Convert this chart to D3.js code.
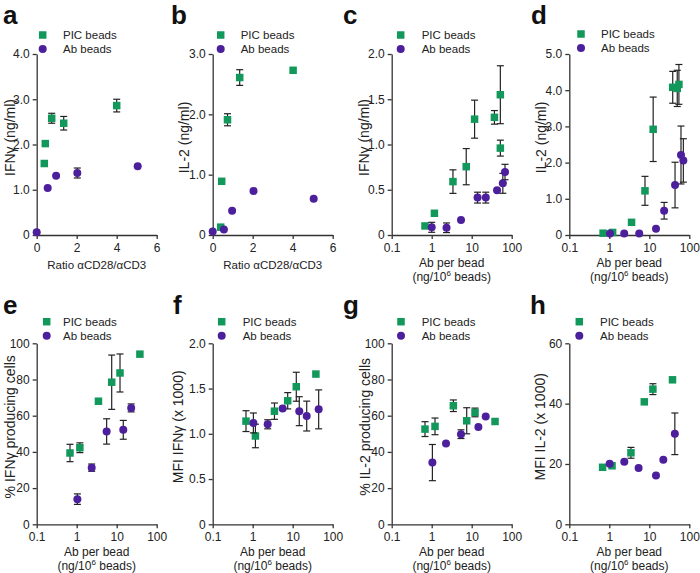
<!DOCTYPE html>
<html><head><meta charset="utf-8">
<script src="https://cdn.jsdelivr.net/npm/d3@7"></script>
<style>body{margin:0;background:#fff} svg text{font-family:"Liberation Sans",Arial,Helvetica,sans-serif}</style>
</head><body><svg id="chart" width="700" height="573"></svg>
<script>
// ---------- DATA ----------
const seriesNames = ["PIC beads", "Ab beads"];
// a: IFNγ vs ratio
const aPicX = [0.38, 0.43, 0.75, 1.35, 4.0];
const aPicY = [1.58, 2.02, 2.58, 2.47, 2.86];
const aPicErr = [0, 0, 0.11, 0.15, 0.14];
const aAbX = [0, 0.55, 0.97, 2.03, 5.05];
const aAbY = [0.06, 1.04, 1.31, 1.37, 1.52];
const aAbErr = [0, 0, 0, 0.11, 0];
// b: IL-2 vs ratio
const bPicX = [0.40, 0.45, 0.74, 1.35, 4.02];
const bPicY = [0.13, 0.89, 1.91, 2.61, 2.73];
const bPicErr = [0, 0, 0.10, 0.13, 0];
const bAbX = [0, 0.56, 0.97, 2.04, 5.05];
const bAbY = [0.06, 0.09, 0.40, 0.73, 0.60];
const bAbErr = [0, 0, 0, 0, 0];
// c: IFNγ vs Ab per bead
const cPicX = [0.68, 1.17, 3.4, 7.3, 11.8, 37, 52, 52];
const cPicY = [0.10, 0.24, 0.59, 0.755, 1.28, 1.30, 1.55, 0.96];
const cPicErr = [0, 0, 0.13, 0.20, 0.21, 0.075, 0.32, 0.088];
const cAbX = [1.0, 2.35, 5.4, 14, 22.5, 43, 60, 68];
const cAbY = [0.085, 0.08, 0.166, 0.413, 0.413, 0.494, 0.571, 0.696];
const cAbErr = [0.055, 0.053, 0, 0.06, 0.06, 0, 0.11, 0.085];
// d: IL-2 vs Ab per bead
const dPicX = [0.70, 1.21, 3.6, 7.8, 12.5, 38.5, 50, 55];
const dPicY = [0.05, 0.07, 0.35, 1.22, 2.92, 4.08, 4.05, 4.16];
const dPicErr = [0, 0, 0, 0.4, 0.89, 0.44, 0.5, 0.55];
const dAbX = [1.04, 2.36, 5.6, 14.7, 23.5, 44, 62, 71];
const dAbY = [0.04, 0.04, 0.04, 0.17, 0.67, 1.38, 2.21, 2.06];
const dAbErr = [0, 0, 0, 0, 0.23, 0.63, 0.8, 0.6];
// e: % IFNγ producing cells
const ePicX = [0.68, 1.2, 3.5, 7.5, 12.1, 38];
const ePicY = [39.4, 42.3, 68, 78.5, 83.6, 94];
const ePicErr = [4.8, 2.7, 0, 15, 10.5, 0];
const eAbX = [1.04, 2.37, 5.6, 14.6, 23];
const eAbY = [13.9, 31.3, 51.3, 52.2, 64.3];
const eAbErr = [2.9, 2, 7, 5.2, 2.2];
// f: MFI IFNγ
const fPicX = [0.68, 1.17, 3.5, 7.5, 12.3, 38];
const fPicY = [1.14, 0.976, 1.25, 1.365, 1.52, 1.66];
const fPicErr = [0.115, 0.13, 0.09, 0.09, 0.16, 0];
const fAbX = [1.04, 2.37, 5.6, 14.6, 22.4, 44.6];
const fAbY = [1.12, 1.105, 1.28, 1.25, 1.196, 1.27];
const fAbErr = [0.11, 0.05, 0, 0.16, 0.165, 0.215];
// g: % IL-2 producing cells
const gPicX = [0.68, 1.21, 3.48, 7.5, 12.1, 38.3];
const gPicY = [52.6, 54.1, 65.5, 57.2, 61.8, 56.8];
const gPicErr = [4.1, 4.6, 3.2, 7.2, 2.4, 0];
const gAbX = [1.04, 2.28, 5.4, 14.7, 22.4];
const gAbY = [34.1, 44.6, 49.8, 53.7, 59.6];
const gAbErr = [10, 0, 2.4, 0, 0];
// h: MFI IL-2
const hPicX = [0.68, 1.17, 3.48, 7.5, 12.3, 38];
const hPicY = [18.9, 19.4, 23.7, 40.6, 44.8, 47.9];
const hPicErr = [0, 0, 1.8, 0, 1.8, 0];
const hAbX = [1.02, 2.37, 5.4, 14.7, 22.4, 43.5];
const hAbY = [20.1, 20.7, 18.7, 16.2, 21.4, 30.0];
const hAbErr = [0, 0, 0, 0, 0, 6.9];

// tick values / labels
const ratioTicks = [0, 2, 4, 6];
const logTicks = [0.1, 1, 10, 100];
const aYTicks = [0, 1, 2, 3, 4];
const bYTicks = [0, 1, 2, 3];
const cYTicks = [0, 0.5, 1, 1.5, 2];
const dYTicks = [0, 1, 2, 3, 4, 5];
const pctTicks = [0, 20, 40, 60, 80, 100];
const fYTicks = [0, 0.5, 1, 1.5, 2];
const hYTicks = [0, 20, 40, 60];

const GREEN = "#13985c", PURPLE = "#4c1f9c", AXIS = "#333";

const dec1 = v => v === 0 ? "0" : v.toFixed(1);
const intf = v => String(v);
const logf = v => d3.format("~g")(v);
const abTitle = ["Ab per bead", "(ng/10", "6", " beads)"];

const panels = [
  {L:"a", ox:36.7, oy:235, log:false, xd:[0,6], xt:ratioTicks, yd:[0,4], yt:aYTicks, yf:dec1, yT:"IFNγ (ng/ml)", ytx:10, xT:"Ratio αCD28/αCD3", lx:[3,24], lg:[42.7,35,63], P:[aPicX,aPicY,aPicErr], A:[aAbX,aAbY,aAbErr]},
  {L:"b", ox:212.7, oy:235, log:false, xd:[0,6], xt:ratioTicks, yd:[0,3], yt:bYTicks, yf:dec1, yT:"IL-2 (ng/ml)", ytx:184, xT:"Ratio αCD28/αCD3", lx:[171,24], lg:[220.7,35,240.7], P:[bPicX,bPicY,bPicErr], A:[bAbX,bAbY,bAbErr]},
  {L:"c", ox:391.7, oy:235, log:true, xd:[0.1,100], xt:logTicks, yd:[0,2], yt:cYTicks, yf:dec1, yT:"IFNγ  (ng/ml)", ytx:364, xT:null, lx:[343,24], lg:[400.7,35,421.7], P:[cPicX,cPicY,cPicErr], A:[cAbX,cAbY,cAbErr]},
  {L:"d", ox:569.3, oy:235, log:true, xd:[0.1,100], xt:logTicks, yd:[0,5], yt:dYTicks, yf:dec1, yT:"IL-2 (ng/ml)", ytx:541, xT:null, lx:[531,24], lg:[581,34,601], P:[dPicX,dPicY,dPicErr], A:[dAbX,dAbY,dAbErr]},
  {L:"e", ox:36.7, oy:524.3, log:true, xd:[0.1,100], xt:logTicks, yd:[0,100], yt:pctTicks, yf:intf, yT:"% IFNγ producing cells", ytx:10, xT:null, lx:[3,314], lg:[46.7,321.7,63], P:[ePicX,ePicY,ePicErr], A:[eAbX,eAbY,eAbErr]},
  {L:"f", ox:212.7, oy:524.3, log:true, xd:[0.1,100], xt:logTicks, yd:[0,2], yt:fYTicks, yf:dec1, yT:"MFI IFNγ (x 1000)", ytx:178, xT:null, lx:[173,314], lg:[221.7,321.7,242.7], P:[fPicX,fPicY,fPicErr], A:[fAbX,fAbY,fAbErr]},
  {L:"g", ox:391.7, oy:524.3, log:true, xd:[0.1,100], xt:logTicks, yd:[0,100], yt:pctTicks, yf:intf, yT:"% IL-2 producing cells", ytx:365, xT:null, lx:[343,314], lg:[401,321.7,421.7], P:[gPicX,gPicY,gPicErr], A:[gAbX,gAbY,gAbErr]},
  {L:"h", ox:569.3, oy:524.3, log:true, xd:[0.1,100], xt:logTicks, yd:[0,60], yt:hYTicks, yf:intf, yT:"MFI IL-2 (x 1000)", ytx:540, xT:null, lx:[530,314], lg:[579.3,321.7,600], P:[hPicX,hPicY,hPicErr], A:[hAbX,hAbY,hAbErr]}
];

const W = 120, H = 181;
const svg = d3.select("#chart");

panels.forEach(p => {
  const g = svg.append("g");
  const x = (p.log ? d3.scaleLog() : d3.scaleLinear()).domain(p.xd).range([p.ox, p.ox + W]);
  const y = d3.scaleLinear().domain(p.yd).range([p.oy, p.oy - H]);

  const xa = g.append("g").attr("transform", `translate(0,${p.oy})`)
    .call(d3.axisBottom(x).tickValues(p.xt).tickFormat(p.log ? logf : intf).tickSize(4).tickSizeOuter(0).tickPadding(4));
  const ya = g.append("g").attr("transform", `translate(${p.ox},0)`)
    .call(d3.axisLeft(y).tickValues(p.yt).tickFormat(p.yf).tickSize(4).tickSizeOuter(0).tickPadding(3));
  [xa, ya].forEach(a => {
    a.selectAll("path,line").attr("stroke", AXIS).attr("stroke-width", 1.3);
    a.selectAll("text").attr("fill", "#222").style("font-size", "12px");
  });

  // y title
  g.append("text").attr("transform", `translate(${p.ytx},${p.oy - H / 2 - 7}) rotate(-90)`)
    .attr("text-anchor", "middle").attr("dy", "0.35em").style("font-size", "14px").attr("fill", "#222").text(p.yT);
  // x title
  const cx = p.ox + W / 2;
  if (p.xT) {
    g.append("text").attr("x", cx).attr("y", p.oy + 34).attr("text-anchor", "middle").style("font-size", "11.5px").attr("fill", "#222").text(p.xT);
  } else {
    g.append("text").attr("x", cx).attr("y", p.oy + 32).attr("text-anchor", "middle").style("font-size", "12px").attr("fill", "#222").text(abTitle[0]);
    const t2 = g.append("text").attr("x", cx).attr("y", p.oy + 46).attr("text-anchor", "middle").style("font-size", "12px").attr("fill", "#222");
    t2.append("tspan").text(abTitle[1]);
    t2.append("tspan").attr("dy", -5).style("font-size", "8px").text(abTitle[2]);
    t2.append("tspan").attr("dy", 5).text(abTitle[3]);
  }
  // panel letter
  g.append("text").attr("x", p.lx[0]).attr("y", p.lx[1]).style("font-size", "26px").style("font-weight", "bold").attr("fill", "#111").text(p.L);

  // legend
  const [lx, ly, tx] = p.lg;
  g.append("rect").attr("x", lx - 3.75).attr("y", ly - 3.75).attr("width", 7.5).attr("height", 7.5).attr("fill", GREEN);
  g.append("circle").attr("cx", lx).attr("cy", ly + 14).attr("r", 4).attr("fill", PURPLE);
  g.append("text").attr("x", tx).attr("y", ly + 4).style("font-size", "11.5px").attr("fill", "#222").text(seriesNames[0]);
  g.append("text").attr("x", tx).attr("y", ly + 18).style("font-size", "11.5px").attr("fill", "#222").text(seriesNames[1]);

  const drawSeries = (arr, type) => {
    const [xs, ys, es] = arr;
    const pts = xs.map((v, i) => ({x: v, y: ys[i], e: es[i]}));
    const eb = g.append("g").attr("stroke", "#222").attr("stroke-width", 1.2);
    pts.filter(d => d.e > 0).forEach(d => {
      const px = x(d.x);
      eb.append("line").attr("x1", px).attr("x2", px).attr("y1", y(d.y - d.e)).attr("y2", y(d.y + d.e));
      eb.append("line").attr("x1", px - 3.5).attr("x2", px + 3.5).attr("y1", y(d.y - d.e)).attr("y2", y(d.y - d.e));
      eb.append("line").attr("x1", px - 3.5).attr("x2", px + 3.5).attr("y1", y(d.y + d.e)).attr("y2", y(d.y + d.e));
    });
    if (type === "sq") {
      g.append("g").selectAll("rect").data(pts).join("rect")
        .attr("x", d => x(d.x) - 3.75).attr("y", d => y(d.y) - 3.75).attr("width", 7.5).attr("height", 7.5).attr("fill", GREEN);
    } else {
      g.append("g").selectAll("circle").data(pts).join("circle")
        .attr("cx", d => x(d.x)).attr("cy", d => y(d.y)).attr("r", 4).attr("fill", PURPLE);
    }
  };
  drawSeries(p.P, "sq");
  drawSeries(p.A, "ci");
});
</script></body></html>
